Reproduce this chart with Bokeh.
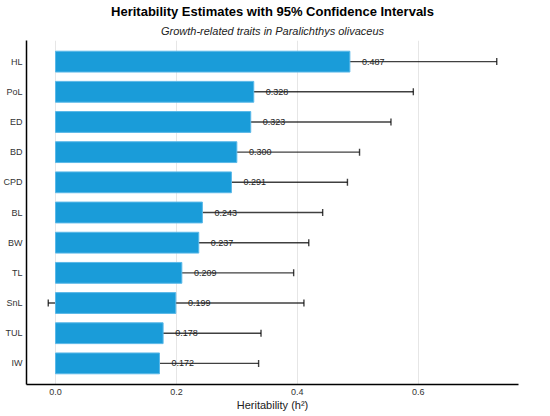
from bokeh.plotting import figure
from bokeh.models import (ColumnDataSource, FactorRange, Range1d, FixedTicker,
                          Title, Whisker, TeeHead)
from bokeh.embed import file_html
from bokeh.resources import INLINE
from bokeh.core.properties import value

traits = ["HL", "PoL", "ED", "BD", "CPD", "BL", "BW", "TL", "SnL", "TUL", "IW"]
h2 = [0.487, 0.328, 0.323, 0.300, 0.291, 0.243, 0.237, 0.209, 0.199, 0.178, 0.172]
ci_low = [0.245, 0.066, 0.091, 0.098, 0.101, 0.045, 0.057, 0.025, -0.012, 0.018, 0.009]
ci_high = [0.730, 0.592, 0.555, 0.503, 0.483, 0.442, 0.419, 0.394, 0.411, 0.340, 0.336]
x_ticks = [0.0, 0.2, 0.4, 0.6]
x_tick_labels = ["0.0", "0.2", "0.4", "0.6"]

FONT = "Liberation Sans"

src = ColumnDataSource(data=dict(
    trait=traits, h2=h2, low=ci_low, high=ci_high,
    label=["%.3f" % v for v in h2],
    label_x=[v + 0.02 for v in h2],
))

y_range = FactorRange(factors=list(reversed(traits)), range_padding=0.2,
                      range_padding_units="absolute")

p = figure(width=550, height=416, y_range=y_range, x_range=Range1d(-0.048, 0.766),
           output_backend="svg", toolbar_location=None,
           min_border_left=19, min_border_right=32, min_border_top=0,
           min_border_bottom=32)

p.hbar(y="trait", right="h2", left=0, height=0.69, source=src,
       fill_color="#1a9cd9", line_color="#5ab8e8", line_width=1)

p.text(x="label_x", y="trait", text="label", source=src,
       text_font=value(FONT), text_font_size="9px", text_color="#222222",
       text_align="left", text_baseline="middle")

w = Whisker(base="trait", lower="low", upper="high", dimension="width", source=src,
            line_color="black", line_alpha=0.75, line_width=1.4,
            upper_head=TeeHead(size=7, line_color="black", line_alpha=0.75, line_width=1.4),
            lower_head=TeeHead(size=7, line_color="black", line_alpha=0.75, line_width=1.4))
p.add_layout(w)

sub = Title(text="Growth-related traits in Paralichthys olivaceus", align="center",
            text_font=FONT, text_font_size="11px", text_font_style="italic",
            text_color="#222222", standoff=7)
p.add_layout(sub, "above")
main = Title(text="Heritability Estimates with 95% Confidence Intervals", align="center",
             text_font=FONT, text_font_size="13px", text_font_style="bold",
             text_color="black", standoff=2)
p.add_layout(main, "above")

p.outline_line_color = None
p.background_fill_color = "white"

p.xaxis.ticker = FixedTicker(ticks=x_ticks)
p.xaxis.major_label_overrides = dict(zip(x_ticks, x_tick_labels))
p.xaxis.axis_label = "Heritability (h²)"
p.xaxis.axis_label_text_font = FONT
p.xaxis.axis_label_text_font_size = "11px"
p.xaxis.axis_label_text_font_style = "normal"
p.xaxis.axis_label_text_color = "#222222"
p.xaxis.axis_label_standoff = 1

for ax in (p.xaxis, p.yaxis):
    ax.axis_line_color = "black"
    ax.axis_line_width = 1.5
    ax.major_tick_line_color = None
    ax.minor_tick_line_color = None
    ax.major_tick_out = 0
    ax.major_tick_in = 0
    ax.minor_tick_out = 0
    ax.minor_tick_in = 0
    ax.major_label_text_font = FONT
    ax.major_label_text_font_size = "9px"
    ax.major_label_text_color = "#333333"

p.xaxis.major_label_standoff = 4
p.yaxis.major_label_standoff = 4

p.xgrid.grid_line_color = "#e6e6e6"
p.xgrid.grid_line_width = 1
p.ygrid.grid_line_color = None

open("out.html", "w").write(file_html(p, INLINE))
